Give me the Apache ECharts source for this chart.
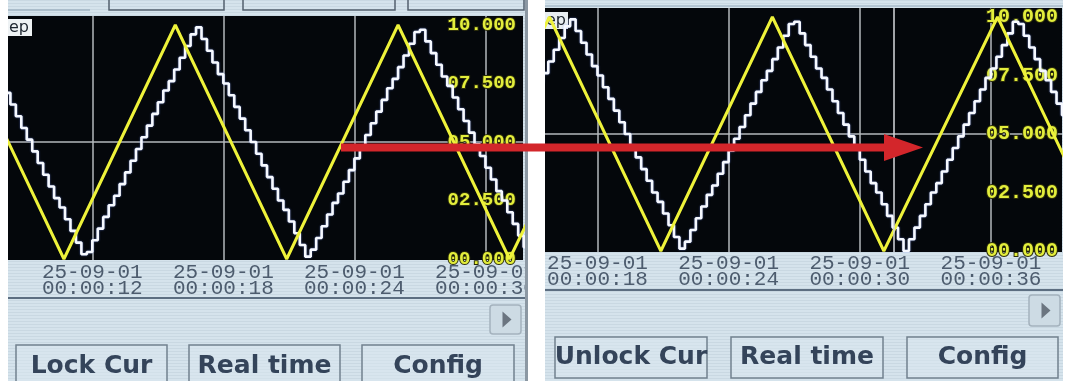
<!DOCTYPE html>
<html>
<head>
<meta charset="utf-8">
<script src="https://cdn.jsdelivr.net/npm/echarts@6/dist/echarts.min.js"></script>
<style>
html,body{margin:0;padding:0;background:#ffffff;}
#c{width:1072px;height:381px;}
</style>
</head>
<body>
<div id="c"></div>
<script>
// ---------- data ----------
const dateLabel = '25-09-01';
// yellow trace: vertices (seconds, value)
const yellowTimes = [0.5, 5.6, 10.7, 15.8, 20.9, 26.0, 31.1, 36.3, 41.4];
const yellowValues = [0, 10, 0, 10, 0, 10, 0, 10, 0];
// white trace: stepped samples, first sample at 8.0 s, one sample every 0.25 s
const whiteStart = 8.0;
const whiteDt = 0.25;
const whiteValues = [
  7.1,6.6,6.1,5.6,5.1,4.6,4.1,3.6,3.1,2.6,2.2,1.7,1.2,0.7,0.2,
  0.3,0.8,1.3,1.8,2.3,2.7,3.2,3.7,4.2,4.7,5.2,5.7,6.2,6.7,7.2,7.6,8.1,8.6,9.1,9.6,
  9.9,9.4,8.9,8.4,7.9,7.5,7.0,6.5,6.0,5.5,5.0,4.5,4.0,3.5,3.0,2.5,2.1,1.6,1.1,0.6,0.1,
  0.4,0.9,1.4,1.9,2.4,2.8,3.3,3.8,4.3,4.8,5.3,5.8,6.3,6.8,7.3,7.7,8.2,8.7,9.2,9.7,
  9.8,9.3,8.8,8.3,7.8,7.4,6.9,6.4,5.9,5.4,4.9,4.4,3.9,3.4,2.9,2.5,2.0,1.5,1.0,0.5,0.0,
  0.5,1.0,1.5,2.0,2.5,2.9,3.4,3.9,4.4,4.9,5.4,5.9,6.4,6.9,7.4,7.8,8.3,8.8,9.3,9.8,
  9.7,9.2,8.7,8.2,7.7,7.3,6.8,6.3,5.8,5.3,4.8,4.3
];
const leftWindow = [8.14, 31.72];
const rightWindow = [15.6, 39.25];
const leftTimeTicks = [12, 18, 24, 30];
const rightTimeTicks = [18, 24, 30, 36];
const valueTicks = [0, 2.5, 5, 7.5, 10];
const valueGrid = [5];
const cursorTime = 31.57;
const leftButtons = ['Lock Cur', 'Real time', 'Config'];
const rightButtons = ['Unlock Cur', 'Real time', 'Config'];

// ---------- build ----------
const yellowData = yellowTimes.map((t, i) => [t, yellowValues[i]]);
const whiteData = whiteValues.map((v, i) => [whiteStart + i * whiteDt, v]);

function pad2(n){ return (n < 10 ? '0' : '') + n; }
function fmtVal(v){ return (v < 10 ? '0' : '') + v.toFixed(3); }

// scanline texture for panels
const pc = document.createElement('canvas');
pc.width = 4; pc.height = 3;
const pctx = pc.getContext('2d');
pctx.fillStyle = '#d5e3ec'; pctx.fillRect(0,0,4,3);
pctx.fillStyle = '#c9d8e2'; pctx.fillRect(0,0,4,1);
const panelFill = { image: pc, repeat: 'repeat' };

const GRID_LINE = '#b3b8bd';
function xAxisCfg(gi, win, ticks, labelMargin){
  return {
    gridIndex: gi, type: 'value', min: win[0], max: win[1], position: 'bottom',
    axisLine: { show: false },
    axisTick: { show: false, customValues: ticks },
    splitLine: { show: true, lineStyle: { color: GRID_LINE, width: 1.5 } },
    axisLabel: {
      customValues: ticks, margin: labelMargin,
      formatter: v => dateLabel + '\n00:00:' + pad2(v),
      color: '#4d5c6e', fontFamily: 'Liberation Mono', fontSize: 21, lineHeight: 16,
      showMinLabel: true, showMaxLabel: true
    }
  };
}
function yAxisCfg(gi, fontSize, margin){
  return {
    gridIndex: gi, type: 'value', min: -0.043, max: 10.385, position: 'right',
    axisLine: { show: false },
    axisTick: { show: false, customValues: valueGrid },
    splitLine: { show: true, lineStyle: { color: GRID_LINE, width: 1.5 } },
    axisLabel: {
      inside: true, margin: margin, customValues: valueTicks,
      formatter: fmtVal,
      color: '#e3ee3c', fontFamily: 'Liberation Mono', fontWeight: 'bold', fontSize: fontSize,
      textBorderColor: '#2b2c0a', textBorderWidth: 2
    }
  };
}
function whiteSeries(ai, extra){
  return Object.assign({
    type: 'line', xAxisIndex: ai, yAxisIndex: ai, data: whiteData, step: 'end',
    symbol: 'none', animation: false, z: 3,
    lineStyle: { color: '#f6f9ff', width: 2.6, shadowColor: 'rgba(120,150,255,0.6)', shadowBlur: 2 }
  }, extra || {});
}
function yellowSeries(ai){
  return {
    type: 'line', xAxisIndex: ai, yAxisIndex: ai, data: yellowData,
    symbol: 'none', animation: false, z: 4,
    lineStyle: { color: '#eef23a', width: 3 }
  };
}

function button(x, y, w, h, text, cy){
  return {
    type: 'group', z: 5, children: [
      { type: 'rect', shape: { x: x, y: y, width: w, height: h },
        style: { fill: 'rgba(220,232,240,0.5)', stroke: '#71818f', lineWidth: 1.5 } },
      { type: 'text', style: { text: text, x: x + w / 2, y: cy, textAlign: 'center', textVerticalAlign: 'middle',
        font: 'bold 25px "DejaVu Sans"', fill: '#34445a' } }
    ]
  };
}
function arrowBtn(x, y, w, h){
  const cx = x + w / 2 + 1, cy = y + h / 2;
  return {
    type: 'group', z: 5, children: [
      { type: 'rect', shape: { x: x, y: y, width: w, height: h, r: 3 },
        style: { fill: '#cddbe4', stroke: '#a4b2bd', lineWidth: 1.5 } },
      { type: 'polygon', shape: { points: [[cx - 4, cy - 8], [cx + 5, cy], [cx - 4, cy + 8]] },
        style: { fill: '#6b7580' } }
    ]
  };
}

const graphics = [
  // panels
  { type: 'rect', z: -10, shape: { x: 8, y: 0, width: 518, height: 381 }, style: { fill: panelFill } },
  { type: 'rect', z: -10, shape: { x: 545, y: 0, width: 518, height: 381 }, style: { fill: panelFill } },
  // top strip of left panel (bottoms of upper buttons)
  { type: 'line', z: 5, shape: { x1: 8, y1: 10, x2: 90, y2: 10 }, style: { stroke: '#9fb3c2', lineWidth: 1.5 } },
  { type: 'polyline', z: 5, shape: { points: [[109,0],[109,10],[224,10],[224,0]] }, style: { stroke: '#53606e', lineWidth: 1.5, fill: null } },
  { type: 'polyline', z: 5, shape: { points: [[243,0],[243,10],[395,10],[395,0]] }, style: { stroke: '#53606e', lineWidth: 1.5, fill: null } },
  { type: 'polyline', z: 5, shape: { points: [[408,0],[408,10],[524,10],[524,0]] }, style: { stroke: '#53606e', lineWidth: 1.5, fill: null } },
  { type: 'line', z: 5, shape: { x1: 545, y1: 6, x2: 1063, y2: 6 }, style: { stroke: '#a9bccb', lineWidth: 1.5 } },
  // label strip bottom borders
  { type: 'line', z: 5, shape: { x1: 8, y1: 298, x2: 526, y2: 298 }, style: { stroke: '#5c6e81', lineWidth: 2 } },
  { type: 'line', z: 5, shape: { x1: 545, y1: 290, x2: 1063, y2: 290 }, style: { stroke: '#5c6e81', lineWidth: 2 } },
  // ep boxes
  { type: 'group', z: 6, children: [
    { type: 'rect', shape: { x: 8, y: 19, width: 24, height: 17 }, style: { fill: '#eef2f4' } },
    { type: 'text', style: { text: 'ep', x: 9, y: 28, textVerticalAlign: 'middle', font: '16px "DejaVu Sans"', fill: '#1e2630' } }
  ]},
  { type: 'group', z: 6, children: [
    { type: 'rect', shape: { x: 545, y: 12, width: 23, height: 17 }, style: { fill: '#e8eef2' } },
    { type: 'text', style: { text: 'ep', x: 546, y: 21, textVerticalAlign: 'middle', font: '16px "DejaVu Sans"', fill: '#1e2630' } }
  ]},
  arrowBtn(490, 305, 31, 29),
  arrowBtn(1029, 295, 31, 31),
  button(16, 345, 151, 50, leftButtons[0], 366),
  button(189, 345, 151, 50, leftButtons[1], 366),
  button(362, 345, 152, 50, leftButtons[2], 366),
  button(555, 337, 152, 41, rightButtons[0], 357),
  button(731, 337, 152, 41, rightButtons[1], 357),
  button(907, 337, 151, 41, rightButtons[2], 357),
  // gap between the two screens + frame edge
  { type: 'rect', z: 50, shape: { x: 526, y: 0, width: 19, height: 381 }, style: { fill: '#ffffff' } },
  { type: 'rect', z: 51, shape: { x: 525, y: 0, width: 3, height: 381 }, style: { fill: '#8c98a3' } },
  { type: 'rect', z: 50, shape: { x: 1063, y: 0, width: 9, height: 381 }, style: { fill: '#ffffff' } },
  { type: 'rect', z: 50, shape: { x: 0, y: 0, width: 8, height: 381 }, style: { fill: '#ffffff' } },
  // red arrow
  { type: 'rect', z: 100, shape: { x: 341, y: 143.5, width: 546, height: 8 }, style: { fill: '#d3262b' } },
  { type: 'polygon', z: 100, shape: { points: [[884, 134], [923, 147.5], [884, 161]] }, style: { fill: '#d3262b' } }
];

const option = {
  backgroundColor: 'transparent',
  animation: false,
  grid: [
    { left: 8, top: 16, width: 515, height: 244, show: true, backgroundColor: '#04070b', borderWidth: 0 },
    { left: 545, top: 8, width: 517, height: 244, show: true, backgroundColor: '#04070b', borderWidth: 0 }
  ],
  xAxis: [ xAxisCfg(0, leftWindow, leftTimeTicks, 4), xAxisCfg(1, rightWindow, rightTimeTicks, 3) ],
  yAxis: [ yAxisCfg(0, 19, 7), yAxisCfg(1, 20, 4) ],
  series: [
    whiteSeries(0),
    yellowSeries(0),
    whiteSeries(1, {
      markLine: { silent: true, symbol: 'none', label: { show: false },
        lineStyle: { color: '#d6dade', width: 1.5, type: 'solid' },
        data: [ { xAxis: cursorTime } ] }
    }),
    yellowSeries(1)
  ],
  graphic: graphics
};

const chart = echarts.init(document.getElementById('c'), null, { renderer: 'canvas' });
chart.setOption(option);
</script>
</body>
</html>
